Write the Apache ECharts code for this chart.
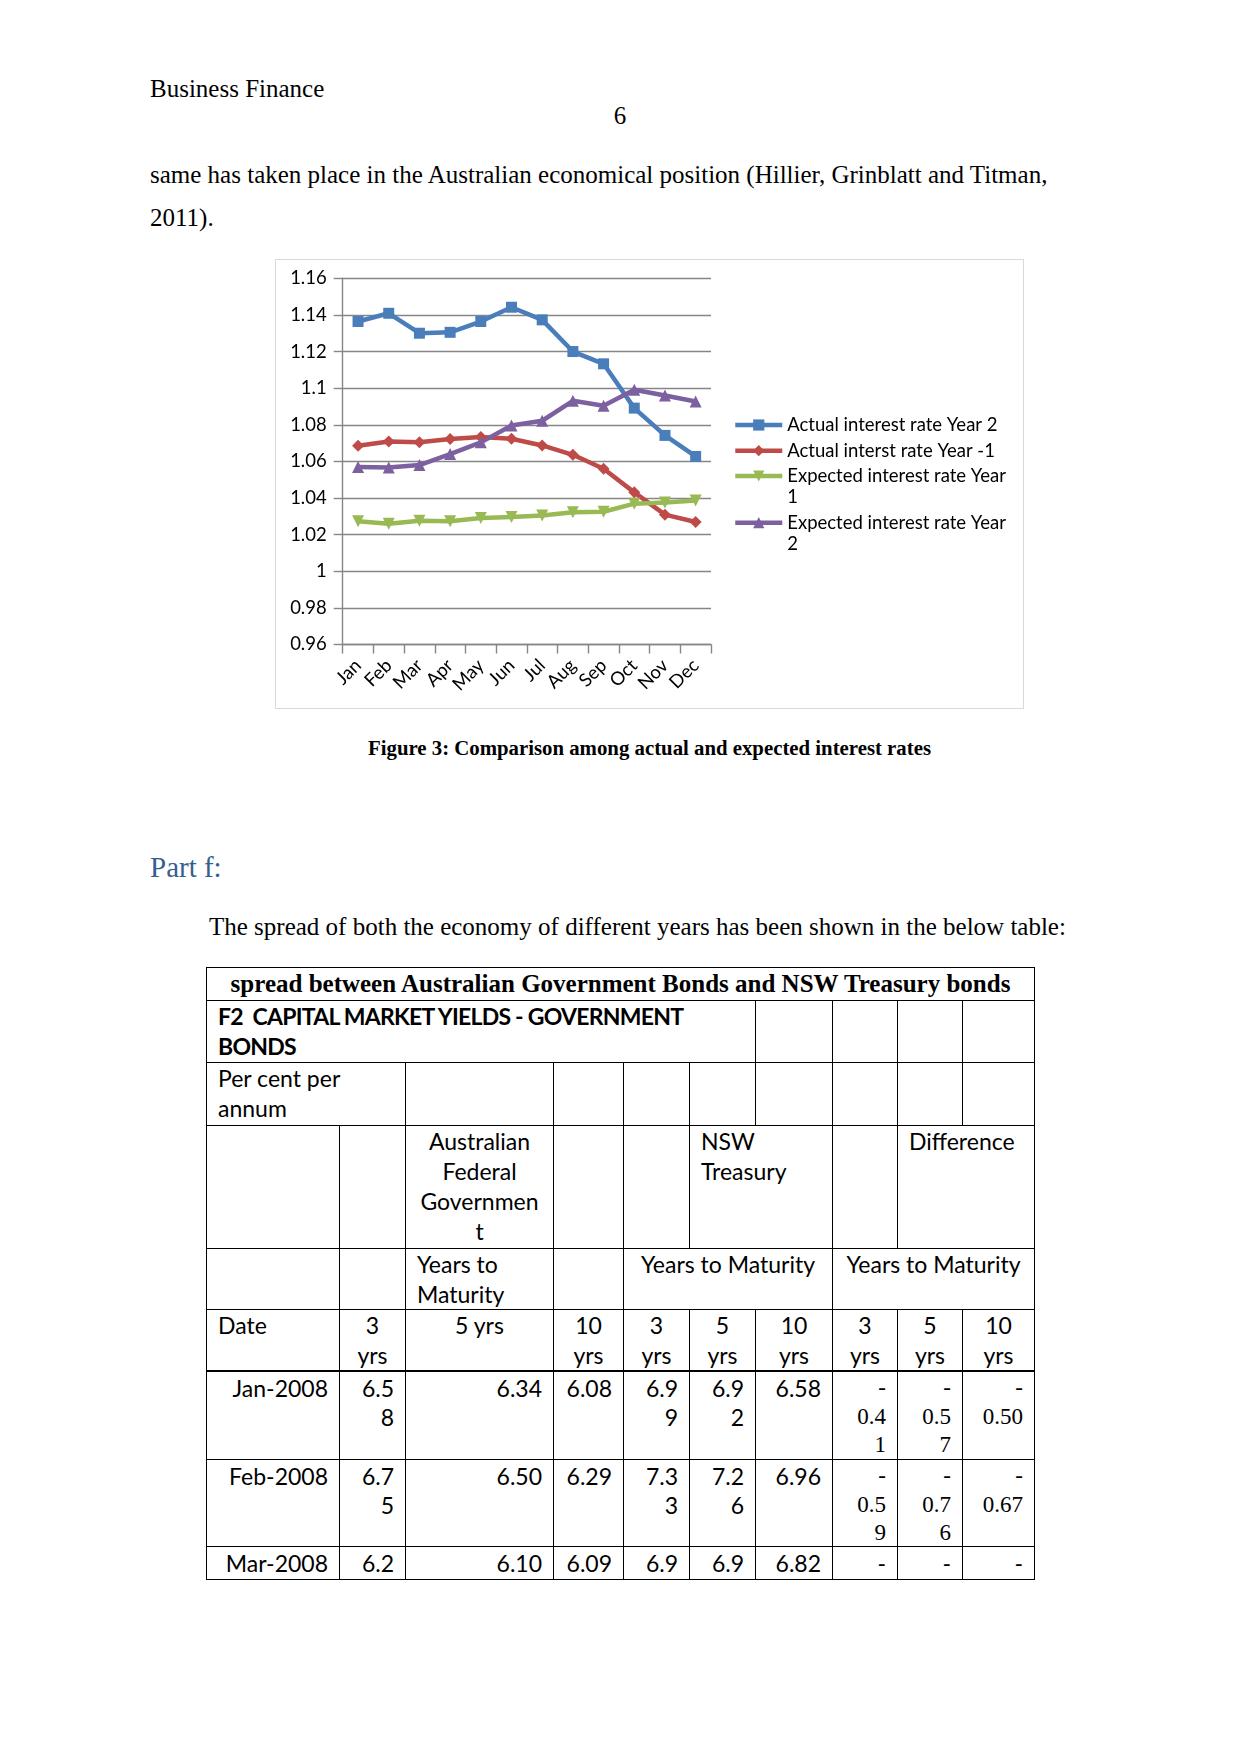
<!DOCTYPE html>
<html>
<head>
<meta charset="utf-8">
<script src="https://cdn.jsdelivr.net/npm/echarts@6/dist/echarts.min.js"></script>
<style>
  html, body { margin:0; padding:0; background:#fff; }
  body { width:1241px; height:1754px; position:relative; overflow:hidden; }
  .serif { font-family:"Liberation Serif","Times New Roman",serif; color:#000; position:absolute; white-space:nowrap; }
  #chartBox { position:absolute; left:275px; top:259px; width:749px; height:450px; border:1px solid #d9d9d9; box-sizing:border-box; }
  #chart { position:absolute; left:0; top:0; width:747px; height:448px; }
  .cell { position:absolute; box-sizing:border-box; border:1px solid #000; font-family:Lato,"Noto Sans",sans-serif; font-size:23px; line-height:30px; padding:0 11px 0 11px; color:#000; white-space:nowrap; overflow:hidden; }
  .r { text-align:right; } .c { text-align:center; } .l { text-align:left; }
  .b { font-weight:bold; letter-spacing:-0.75px; }
  .d { line-height:28.5px; padding-top:2px; }
</style>
</head>
<body>
<div class="serif" style="left:150px;top:74px;font-size:25px;line-height:30px;">Business Finance</div>
<div class="serif" style="left:0;width:1240px;text-align:center;top:101px;font-size:25px;line-height:30px;">6</div>
<div class="serif" style="left:150px;top:160px;font-size:25px;line-height:30px;">same has taken place in the Australian economical position (Hillier, Grinblatt and Titman,</div>
<div class="serif" style="left:150px;top:203px;font-size:25px;line-height:30px;">2011).</div>

<div id="chartBox"><div id="chart"></div></div>

<div class="serif" style="left:0;width:1299px;text-align:center;top:736px;font-size:20.8px;line-height:24px;font-weight:bold;">Figure 3: Comparison among actual and expected interest rates</div>
<div class="serif" style="left:150px;top:850px;font-size:29px;line-height:34px;color:#365F91;">Part f:</div>
<div class="serif" style="left:209px;top:912px;font-size:25px;line-height:30px;">The spread of both the economy of different years has been shown in the below table:</div>

<div id="table"></div>

<script>
// ---------------- Chart data ----------------
var months = ['Jan','Feb','Mar','Apr','May','Jun','Jul','Aug','Sep','Oct','Nov','Dec'];
var seriesNames = ['Actual interest rate Year 2','Actual interst rate Year -1','Expected interest rate Year 1','Expected interest rate Year 2'];
var actualYear2      = [1.1364,1.1409,1.1300,1.1305,1.1364,1.1442,1.1373,1.1200,1.1133,1.0891,1.0742,1.0627];
var actualYearMinus1 = [1.0685,1.0709,1.0704,1.0722,1.0733,1.0724,1.0687,1.0636,1.0560,1.0431,1.0309,1.0269];
var expectedYear1    = [1.0273,1.0260,1.0276,1.0273,1.0291,1.0296,1.0304,1.0322,1.0325,1.0369,1.0376,1.0387];
var expectedYear2    = [1.0569,1.0567,1.0580,1.0640,1.0704,1.0796,1.0822,1.0931,1.0904,1.0991,1.0960,1.0927];
var yMin = 0.96, yMax = 1.16, yStep = 0.02;

var colors = ['#4A7EBB','#BE4B48','#98B954','#7D60A0'];
var axisGray = '#868686';
var font = 'Lato';
var fs = 18.5;

var chart = echarts.init(document.getElementById('chart'), null, {renderer:'canvas'});
var legendText = {fontFamily:font, fontSize:fs, lineHeight:21, color:'#000'};
// two-line legend entries: blank first line keeps the icon level with the first text line
var wrapped = function(n){ return '\n' + n.replace(/ (\d)$/, '\n$1'); };
var legendBase = {orient:'vertical', left:457, itemWidth:47, itemHeight:14, padding:0,
                  selectedMode:false, lineStyle:{width:4.5}};

chart.setOption({
  animation:false,
  grid:{left:66.7, right:312, top:18.3, bottom:63.5},
  xAxis:{
    type:'category', data:months, boundaryGap:true,
    axisLine:{lineStyle:{color:axisGray, width:1.4}},
    axisTick:{show:true, length:9, lineStyle:{color:axisGray, width:1.4}},
    axisLabel:{rotate:45, interval:0, fontFamily:font, fontSize:fs, color:'#000', margin:18}
  },
  yAxis:{
    type:'value', min:yMin, max:yMax, interval:yStep,
    axisLine:{show:true, lineStyle:{color:axisGray, width:1.4}},
    axisTick:{show:true, length:9, lineStyle:{color:axisGray, width:1.4}},
    axisLabel:{fontFamily:font, fontSize:fs, color:'#000', margin:16},
    splitLine:{show:true, lineStyle:{color:axisGray, width:1.4}}
  },
  legend:[
    Object.assign({}, legendBase, {data:[seriesNames[0], seriesNames[1]], top:154.5, itemGap:4.7, textStyle:legendText}),
    Object.assign({}, legendBase, {data:[seriesNames[2]], top:184.5, formatter:wrapped, textStyle:legendText}),
    Object.assign({}, legendBase, {data:[seriesNames[3]], top:231.2, formatter:wrapped, textStyle:legendText})
  ],
  series:[
    {name:seriesNames[0], type:'line', data:actualYear2, symbol:'rect', symbolSize:11,
     lineStyle:{width:4.5, color:colors[0]}, itemStyle:{color:colors[0]}},
    {name:seriesNames[1], type:'line', data:actualYearMinus1, symbol:'diamond', symbolSize:12,
     lineStyle:{width:4.5, color:colors[1]}, itemStyle:{color:colors[1]}},
    {name:seriesNames[2], type:'line', data:expectedYear1, symbol:'triangle', symbolRotate:180, symbolSize:12,
     lineStyle:{width:4.5, color:colors[2]}, itemStyle:{color:colors[2]}},
    {name:seriesNames[3], type:'line', data:expectedYear2, symbol:'triangle', symbolSize:12,
     lineStyle:{width:4.5, color:colors[3]}, itemStyle:{color:colors[3]}}
  ]
});

// ---------------- Table ----------------
var X = [206, 339, 405, 553, 623, 689, 755, 832, 897, 962, 1034];
var Y = [967, 1000, 1062, 1125, 1248, 1309, 1371, 1459, 1546, 1579];
// [row, colStart, colEnd, html, class]
var cells = [
  [0,0,10,'spread between Australian Government Bonds and NSW Treasury bonds','c title'],
  [1,0,6,'F2&nbsp; CAPITAL MARKET YIELDS - GOVERNMENT<br>BONDS','l b'],
  [1,6,7,'',''],[1,7,8,'',''],[1,8,9,'',''],[1,9,10,'',''],
  [2,0,2,'Per cent per<br>annum','l'],
  [2,2,3,'',''],[2,3,4,'',''],[2,4,5,'',''],[2,5,6,'',''],[2,6,7,'',''],[2,7,8,'',''],[2,8,9,'',''],[2,9,10,'',''],
  [3,0,1,'',''],[3,1,2,'',''],[3,2,3,'Australian<br>Federal<br>Governmen<br>t','c'],[3,3,4,'',''],[3,4,5,'',''],
  [3,5,7,'NSW<br>Treasury','l'],[3,7,8,'',''],[3,8,10,'Difference','l'],
  [4,0,1,'',''],[4,1,2,'',''],[4,2,3,'Years to<br>Maturity','l'],[4,3,4,'',''],
  [4,4,7,'Years to Maturity','c'],[4,7,10,'Years to Maturity','c'],
  [5,0,1,'Date','l thick'],[5,1,2,'3<br>yrs','c thick'],[5,2,3,'5 yrs','c thick'],[5,3,4,'10<br>yrs','c thick'],
  [5,4,5,'3<br>yrs','c thick'],[5,5,6,'5<br>yrs','c thick'],[5,6,7,'10<br>yrs','c thick'],
  [5,7,8,'3<br>yrs','c thick'],[5,8,9,'5<br>yrs','c thick'],[5,9,10,'10<br>yrs','c thick'],
  [6,0,1,'Jan-2008','r d'],[6,1,2,'6.5<br>8','r d'],[6,2,3,'6.34','r d'],[6,3,4,'6.08','r d'],
  [6,4,5,'6.9<br>9','r d'],[6,5,6,'6.9<br>2','r d'],[6,6,7,'6.58','r d'],
  [6,7,8,'-<br>0.4<br>1','r d serifnum'],[6,8,9,'-<br>0.5<br>7','r d serifnum'],[6,9,10,'-<br>0.50','r d serifnum'],
  [7,0,1,'Feb-2008','r d'],[7,1,2,'6.7<br>5','r d'],[7,2,3,'6.50','r d'],[7,3,4,'6.29','r d'],
  [7,4,5,'7.3<br>3','r d'],[7,5,6,'7.2<br>6','r d'],[7,6,7,'6.96','r d'],
  [7,7,8,'-<br>0.5<br>9','r d serifnum'],[7,8,9,'-<br>0.7<br>6','r d serifnum'],[7,9,10,'-<br>0.67','r d serifnum'],
  [8,0,1,'Mar-2008','r d'],[8,1,2,'6.2','r d'],[8,2,3,'6.10','r d'],[8,3,4,'6.09','r d'],
  [8,4,5,'6.9','r d'],[8,5,6,'6.9','r d'],[8,6,7,'6.82','r d'],
  [8,7,8,'-','r d'],[8,8,9,'-','r d'],[8,9,10,'-','r d']
];
var tbl = document.getElementById('table');
cells.forEach(function(c){
  var d = document.createElement('div');
  d.className = 'cell ' + c[4];
  d.style.left = X[c[1]] + 'px';
  d.style.top = Y[c[0]] + 'px';
  d.style.width = (X[c[2]] - X[c[1]] + 1) + 'px';
  d.style.height = (Y[c[0]+1] - Y[c[0]] + 1) + 'px';
  if (c[4].indexOf('thick') >= 0) d.style.borderBottomWidth = '2px';
  if (c[4].indexOf('title') >= 0) {
    d.style.fontFamily = '"Liberation Serif","Times New Roman",serif';
    d.style.fontWeight = 'bold'; d.style.fontSize = '25px'; d.style.lineHeight = '32px'; d.style.paddingTop = '0';
  }
  if (c[4].indexOf('serifnum') >= 0) {
    d.style.fontFamily = '"Liberation Serif","Times New Roman",serif';
  }
  d.innerHTML = c[3];
  tbl.appendChild(d);
});
</script>
</body>
</html>
